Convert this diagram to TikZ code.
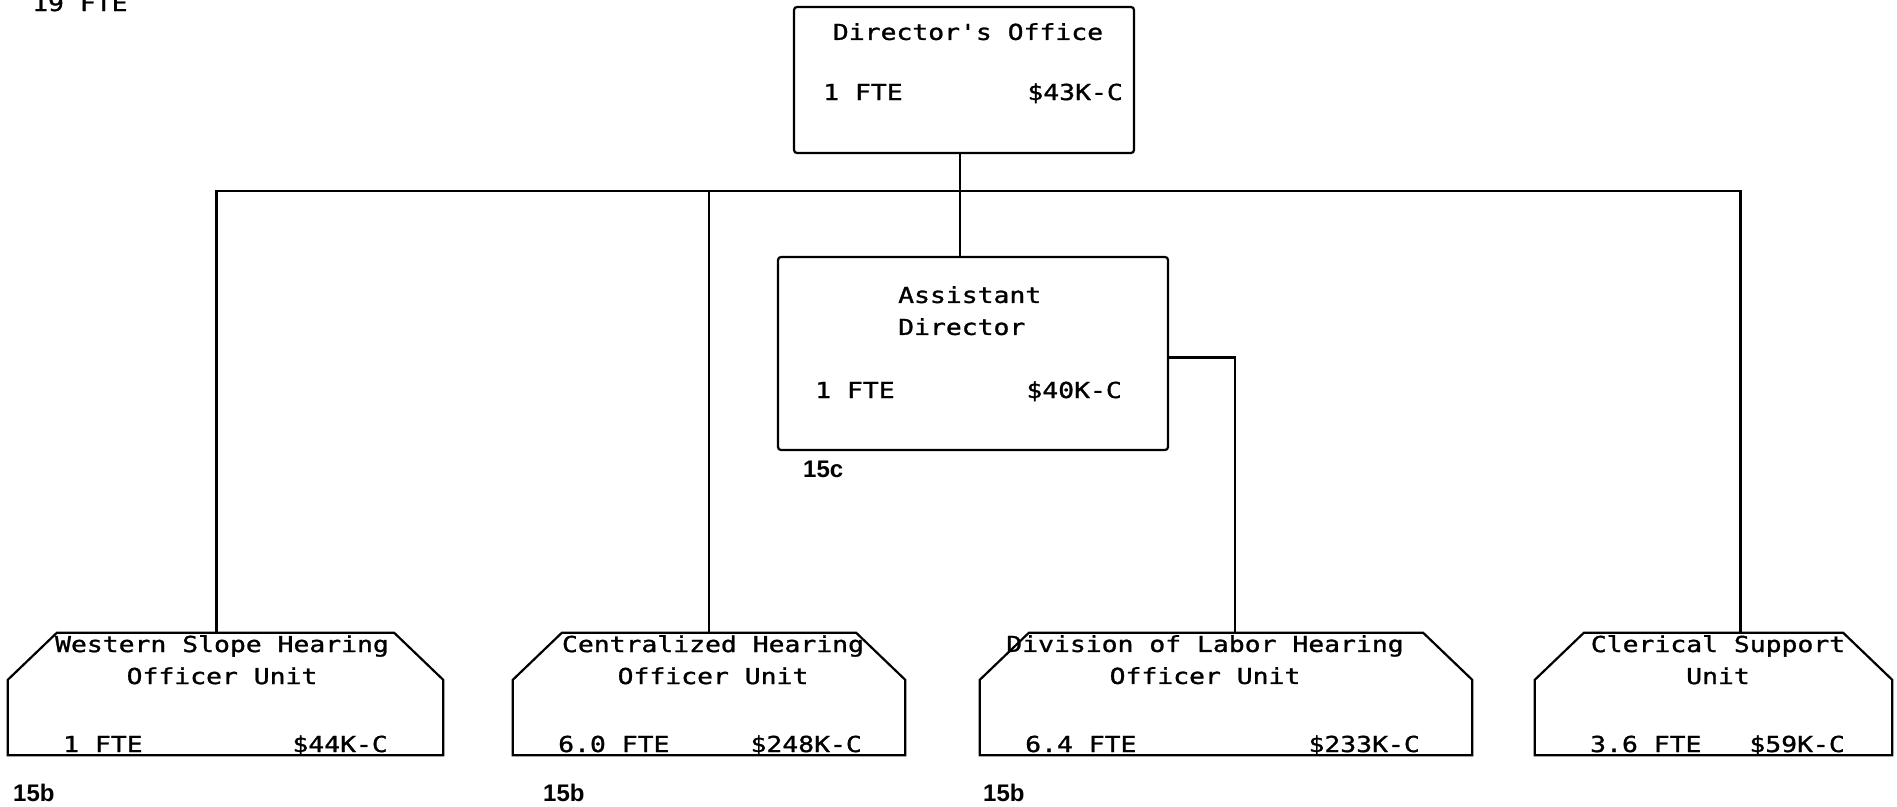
\documentclass[tikz,border=0pt]{standalone}
\usepackage{fontspec}
\setmonofont[FakeStretch=1.2,FakeBold=1.2]{DejaVu Sans Mono}
\setsansfont{Liberation Sans}

\tikzset{
  box/.style={draw, line width=2.2pt, rounded corners=3pt, inner sep=0pt},
  unit/.style={inner sep=0pt},
  txt/.style={font=\ttfamily\fontsize{22}{32}\selectfont, inner sep=0pt},
  code/.style={font=\sffamily\bfseries\fontsize{24}{28}\selectfont, inner sep=0pt, anchor=base west},
  wire/.style={line width=2.2pt}
}

\begin{document}
\begin{tikzpicture}[x=1pt,y=-1pt]
\useasboundingbox (0,0) rectangle (1897,806);

% top boxes
\node[box, minimum width=340pt, minimum height=146pt] (dir) at (964,80) {};
\node[box, minimum width=390pt, minimum height=193pt] (asst) at (973,353.5) {};

% unit boxes (outline drawn below)
\node[unit, minimum width=435pt, minimum height=122pt] (west) at (225.5,694) {};
\node[unit, minimum width=392pt, minimum height=122pt] (cent) at (709,694) {};
\node[unit, minimum width=492pt, minimum height=122pt] (div) at (1226,694) {};
\node[unit, minimum width=357pt, minimum height=122pt] (cler) at (1713.5,694) {};
\foreach \u in {west,cent,div,cler}
  \draw[wire] (\u.south west) -- ([yshift=-47pt]\u.north west) -- ([xshift=49pt]\u.north west)
    -- ([xshift=-49pt]\u.north east) -- ([yshift=-47pt]\u.north east) -- (\u.south east) -- cycle;

% texts
\node[txt, anchor=base west] (total) at (32,11) {19 FTE};
\node[txt, anchor=north] (dirname) at (968,23) {Director's Office};
\node[txt, anchor=base west] (dirfte) at (823,100) {1 FTE};
\node[txt, anchor=base east] (dircost) at (1123,100) {\$43K-C};
\node[txt, anchor=north west, align=left] (asstname) at (898,286) {Assistant\\Director};
\node[txt, anchor=base west] (asstfte) at (815,398) {1 FTE};
\node[txt, anchor=base east] (asstcost) at (1122,398) {\$40K-C};
\node[code] (asstcode) at (803,477) {15c};

\node[txt, anchor=north, align=center] (westname) at (222,635) {Western Slope Hearing\\Officer Unit};
\node[txt, anchor=base west] (westfte) at (63,752) {1 FTE};
\node[txt, anchor=base east] (westcost) at (388,752) {\$44K-C};
\node[code] (westcode) at (13,801) {15b};

\node[txt, anchor=north, align=center] (centname) at (713,635) {Centralized Hearing\\Officer Unit};
\node[txt, anchor=base west] (centfte) at (558,752) {6.0 FTE};
\node[txt, anchor=base east] (centcost) at (862,752) {\$248K-C};
\node[code] (centcode) at (543,801) {15b};

\node[txt, anchor=north, align=center] (divname) at (1205,635) {Division of Labor Hearing\\Officer Unit};
\node[txt, anchor=base west] (divfte) at (1025,752) {6.4 FTE};
\node[txt, anchor=base east] (divcost) at (1420,752) {\$233K-C};
\node[code] (divcode) at (983,801) {15b};

\node[txt, anchor=north, align=center] (clername) at (1718,635) {Clerical Support\\Unit};
\node[txt, anchor=base west] (clerfte) at (1590,752) {3.6 FTE};
\node[txt, anchor=base east] (clercost) at (1845,752) {\$59K-C};

% connectors
\coordinate (bus) at (960,191);
\draw[wire] (dir.south -| bus) -- (asst.north -| bus);
\draw[wire] ([xshift=-9pt]west.north) |- (bus) -| ([xshift=27pt]cler.north);
\draw[wire] (cent.north) -- (cent.north |- bus);
\draw[wire] ([yshift=-4pt]asst.east) -| ([xshift=9pt]div.north);
\end{tikzpicture}
\end{document}
